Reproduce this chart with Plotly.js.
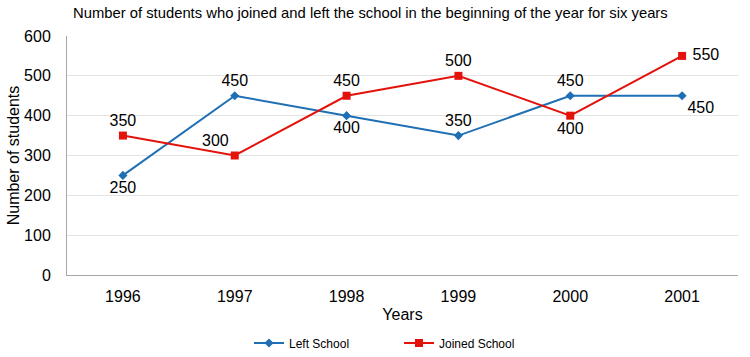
<!DOCTYPE html>
<html>
<head>
<meta charset="utf-8">
<script src="https://cdn.plot.ly/plotly-3.0.1.min.js"></script>
<style>html,body{margin:0;padding:0;background:#fff;}#chart{width:750px;height:357px;}</style>
</head>
<body>
<div id="chart"></div>
<script>
var years = ['1996', '1997', '1998', '1999', '2000', '2001'];
var leftSchool = [250, 450, 400, 350, 450, 450];
var joinedSchool = [350, 300, 450, 500, 400, 550];
var leftLabelPos = ['bottom center', 'top center', 'bottom center', 'top center', 'top center', 'bottom right'];
var joinedLabelPos = ['top center', 'top left', 'top center', 'top center', 'bottom center', 'middle right'];

var traces = [
  {
    x: years, y: leftSchool, name: 'Left School', type: 'scatter', mode: 'lines+markers+text',
    text: leftSchool.map(String), textposition: leftLabelPos,
    textfont: {family: 'Liberation Sans, Arial, sans-serif', size: 16, color: '#000'},
    line: {color: '#1F6FB4', width: 2},
    marker: {symbol: 'diamond', size: 7, color: '#1F6FB4'}
  },
  {
    x: years, y: joinedSchool, name: 'Joined School', type: 'scatter', mode: 'lines+markers+text',
    text: joinedSchool.map(function (v) { return v === 550 ? '\u00a0' + v : String(v); }),
    textposition: joinedLabelPos,
    textfont: {family: 'Liberation Sans, Arial, sans-serif', size: 16, color: '#000'},
    line: {color: '#E3120B', width: 2},
    marker: {symbol: 'square', size: 8, color: '#E3120B'}
  }
];

var layout = {
  width: 750, height: 357,
  margin: {l: 67, r: 12, t: 36, b: 82, autoexpand: false},
  paper_bgcolor: '#fff', plot_bgcolor: '#fff',
  font: {family: 'Liberation Sans, Arial, sans-serif', color: '#000'},
  title: {
    text: 'Number of students who joined and left the school in the beginning of the year for six years',
    font: {size: 14.8, color: '#000'}, x: 73/750, xanchor: 'left', y: 1 - 13/357, yref: 'container', yanchor: 'middle'
  },
  xaxis: {
    type: 'category', showgrid: false, showline: true, linecolor: '#A6A6A6', linewidth: 1,
    ticks: 'outside', ticklen: 7, tickcolor: 'rgba(0,0,0,0)', tickfont: {size: 16}, range: [-0.5, 5.5],
    automargin: false,
    title: {text: 'Years', font: {size: 16}, standoff: 4}
  },
  yaxis: {
    range: [0, 600], dtick: 100, showgrid: true, gridcolor: '#E3E3E3', zeroline: false,
    showline: true, linecolor: '#A6A6A6', linewidth: 1,
    ticks: 'outside', ticklen: 12, tickcolor: 'rgba(0,0,0,0)', tickfont: {size: 16},
    automargin: false,
    title: {text: 'Number of students', font: {size: 16}, standoff: 0}
  },
  legend: {
    orientation: 'h', x: 249/750, xref: 'container', xanchor: 'left',
    y: 1 - 343/357, yref: 'container', yanchor: 'middle',
    font: {size: 12}, entrywidth: 105, entrywidthmode: 'pixels', itemwidth: 30, traceorder: 'normal'
  },
  showlegend: true
};

Plotly.newPlot('chart', traces, layout, {displayModeBar: false, staticPlot: true});
</script>
</body>
</html>
